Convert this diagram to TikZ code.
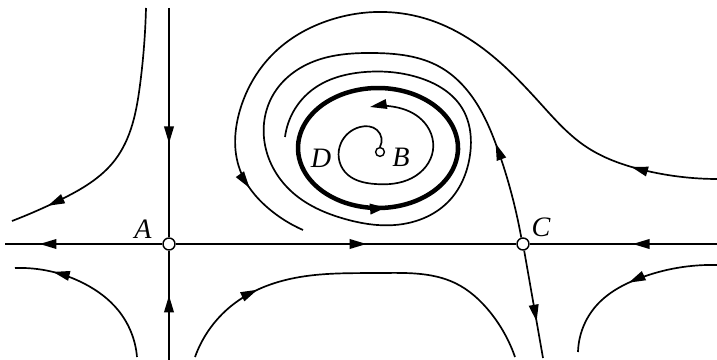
\documentclass[tikz,border=0pt]{standalone}
\usepackage{fontspec}
\setmainfont{Liberation Serif}
\usepackage{tikz}
\usetikzlibrary{arrows.meta, decorations.markings, hobby}

\tikzset{ftip/.tip={Triangle[length=0.42cm, width=0.24cm]}}

\begin{document}
\begin{tikzpicture}[x=0.025cm, y=-0.025cm, use Hobby shortcut,
    orbit/.style={line width=1.2pt},
    limit/.style={line width=3.2pt},
    fix/.style={draw, circle, line width=1pt, fill=white, minimum size=0.3cm, inner sep=0pt},
    small/.style={draw, circle, line width=1pt, fill=white, minimum size=0.22cm, inner sep=0pt},
    lbl/.style={font=\fontsize{20}{20}\selectfont\itshape, inner sep=0pt},
    flow at/.style={postaction={decorate, decoration={markings, mark=at position #1 with {\arrow{ftip}}}}}
]
\useasboundingbox (0,0) rectangle (717,360);

\node[fix] (A) at (169,244) {};
\node[fix] (C) at (523,244) {};
\node[small] (B) at (380,152) {};

\node[lbl] (la) at (143,229) {A};
\node[lbl] (lc) at (541,227) {C};
\node[lbl] (lb) at (401,157) {B};
\node[lbl] (ld) at (321,158) {D};

\coordinate (left) at (5,244);
\coordinate (right) at (717,244);
\coordinate (top) at (169,8);
\coordinate (bottom) at (169,360);
\coordinate (cdown) at (543,358);

\draw[orbit, flow at=0.78] (A) -- (left);
\draw[orbit, flow at=0.56] (A) -- (C);
\draw[orbit, flow at=0.45] (right) -- (C);
\draw[orbit, flow at=0.59] (top) -- (A);
\draw[orbit, flow at=0.59] (bottom) -- (A);
\draw[orbit, flow at=0.66] (C.280) -- (cdown);

\draw[orbit, flow at=0.86] (146,8) .. (140,85) .. (115,160) .. (60,200) .. (12,221);
\draw[orbit, flow at=0.77] (137,357) .. (118,310) .. (85,284) .. (15,268);
\draw[orbit, flow at=0.24] (195,357) .. (235,303) .. (300,277) .. (380,273) .. (455,283) .. (490,312) .. (515,357);
\draw[orbit, flow at=0.50] (717,265) .. (640,278) .. (596,306) .. (578,352);

\draw[orbit, flow at=0.12, flow at=0.905] (717,179) .. (643,170) .. (585,146) .. (540,103) .. (485,50) .. (430,20) .. (385,12) .. (330,20) .. (275,52) .. (240,110) .. (240,170) .. (268,208) .. (303,230);

\draw[orbit, flow at=0.10] (C.105) .. (498,150) .. (477,104) .. (440,67) .. (373,53) .. (310,63) .. (273,95) .. (265,145) .. (292,192) .. (345,219) .. (395,225) .. (448,202) .. (470,155) .. (462,108) .. (420,78) .. (365,72) .. (312,90) .. (285,137);

\draw[orbit, -{ftip}] (B.north) .. (377,130) .. (360,127) .. (341,143) .. (345,172) .. (375,184) .. (412,178) .. (433,150) .. (422,120) .. (395,107) .. (370,107);

\draw[limit, flow at=0.77] plot[domain=0:360, samples=90, smooth] ({378+80*cos(\x)}, {148-60*sin(\x)}) -- cycle;
\end{tikzpicture}
\end{document}
